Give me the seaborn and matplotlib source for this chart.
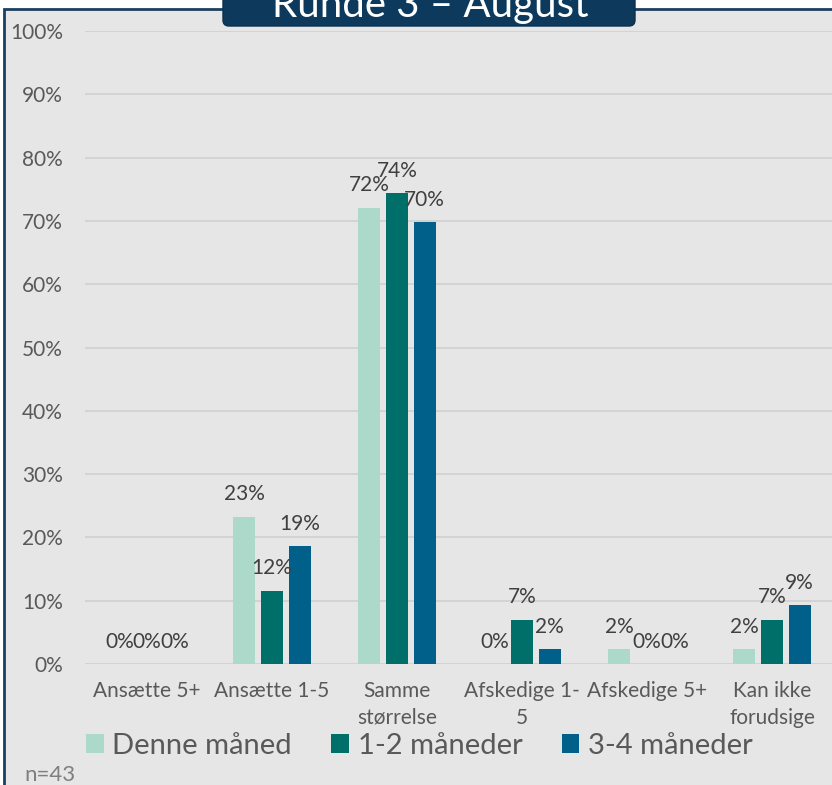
import pandas as pd
import matplotlib.pyplot as plt
import seaborn as sns
from matplotlib.patches import Rectangle, FancyBboxPatch
from matplotlib.transforms import IdentityTransform


kategorier = ['Ansætte 5+', 'Ansætte 1-5', 'Samme\nstørrelse',
              'Afskedige 1-\n5', 'Afskedige 5+', 'Kan ikke\nforudsige']
perioder = ['Denne måned', '1-2 måneder', '3-4 måneder']
denne_maaned = [0.0, 23.3, 72.1, 0.0, 2.3, 2.3]
en_to_maaneder = [0.0, 11.6, 74.4, 7.0, 0.0, 7.0]
tre_fire_maaneder = [0.0, 18.6, 69.8, 2.3, 0.0, 9.3]
farver = ['#acd9c9', '#006e69', '#00608a']
yticks = list(range(0, 101, 10))
titel = 'Runde 3 – August'
note = 'n=43'


def build_frame() -> pd.DataFrame:
    rows = []
    for periode, vals in zip(perioder, [denne_maaned, en_to_maaneder, tre_fire_maaneder]):
        for kat, v in zip(kategorier, vals):
            rows.append({'kategori': kat, 'periode': periode, 'andel': v})
    return pd.DataFrame(rows)


def plot_chart(df):
    plt.rcParams['font.family'] = ['Lato', 'DejaVu Sans']
    W, H = 832, 785
    fig = plt.figure(figsize=(W / 100, H / 100), dpi=100)
    fig.patch.set_facecolor('white')

    # grey panel with dark frame (right/bottom edges run off the image)
    fig.add_artist(Rectangle((4 / W, -0.05), 1.1, 1 - 9 / H + 0.05,
                             transform=fig.transFigure, facecolor='#e6e6e6',
                             edgecolor='#1b3f5f', linewidth=2, zorder=0))

    ax = fig.add_axes([85 / W, 121 / H, 747 / W, 633 / H])
    ax.set_facecolor('none')
    sns.barplot(data=df, x='kategori', y='andel', hue='periode',
                order=kategorier, hue_order=perioder, palette=farver,
                width=0.665, gap=0.22, saturation=1, linewidth=0,
                legend=False, ax=ax)

    series = [denne_maaned, en_to_maaneder, tre_fire_maaneder]
    for cont, vals in zip(ax.containers, series):
        ax.bar_label(cont, labels=[f'{round(v):.0f}%' for v in vals],
                     padding=9, fontsize=15, color='#404040')

    ax.set_xlim(-0.496, 5.48)
    ax.set_ylim(0, 100)
    ax.set_yticks(yticks)
    ax.set_yticklabels([f'{v}%' for v in yticks])
    ax.set_xlabel('')
    ax.set_ylabel('')
    ax.yaxis.grid(True, color='#d2d2d2', linewidth=1.3)
    ax.set_axisbelow(True)
    for s in ax.spines.values():
        s.set_visible(False)
    ax.tick_params(axis='y', length=0, pad=16, labelsize=15, labelcolor='#595959')
    ax.tick_params(axis='x', length=0, pad=12, labelsize=15, labelcolor='#595959')
    for lab in ax.get_xticklabels():
        lab.set_linespacing(1.45)

    handles = [c[0] for c in ax.containers]
    leg = fig.legend(handles, perioder, loc='center left',
                     bbox_to_anchor=(86 / W, 1 - 746 / H), ncol=3, frameon=False,
                     fontsize=21, handlelength=0.6, handleheight=0.6,
                     handletextpad=0.3, columnspacing=1.35, borderpad=0,
                     borderaxespad=0)
    for t in leg.get_texts():
        t.set_color('#595959')

    fig.text(24 / W, 1 - 775 / H, note, fontsize=16, color='#7f7f7f', va='center')

    # title badge
    fig.add_artist(FancyBboxPatch((223, H - 26), 412, 45,
                                  boxstyle='round,pad=0,rounding_size=6',
                                  transform=IdentityTransform(),
                                  facecolor='#0d3a5c', edgecolor='#0a2f4d',
                                  linewidth=1, zorder=3))
    fig.text(430 / W, 1 - 17 / H, titel, ha='center', va='baseline',
             fontsize=29, color='white', zorder=4)

    fig.savefig('out.png', dpi=100)
    plt.close(fig)


def main():
    df = build_frame()
    plot_chart(df)


if __name__ == '__main__':
    main()
